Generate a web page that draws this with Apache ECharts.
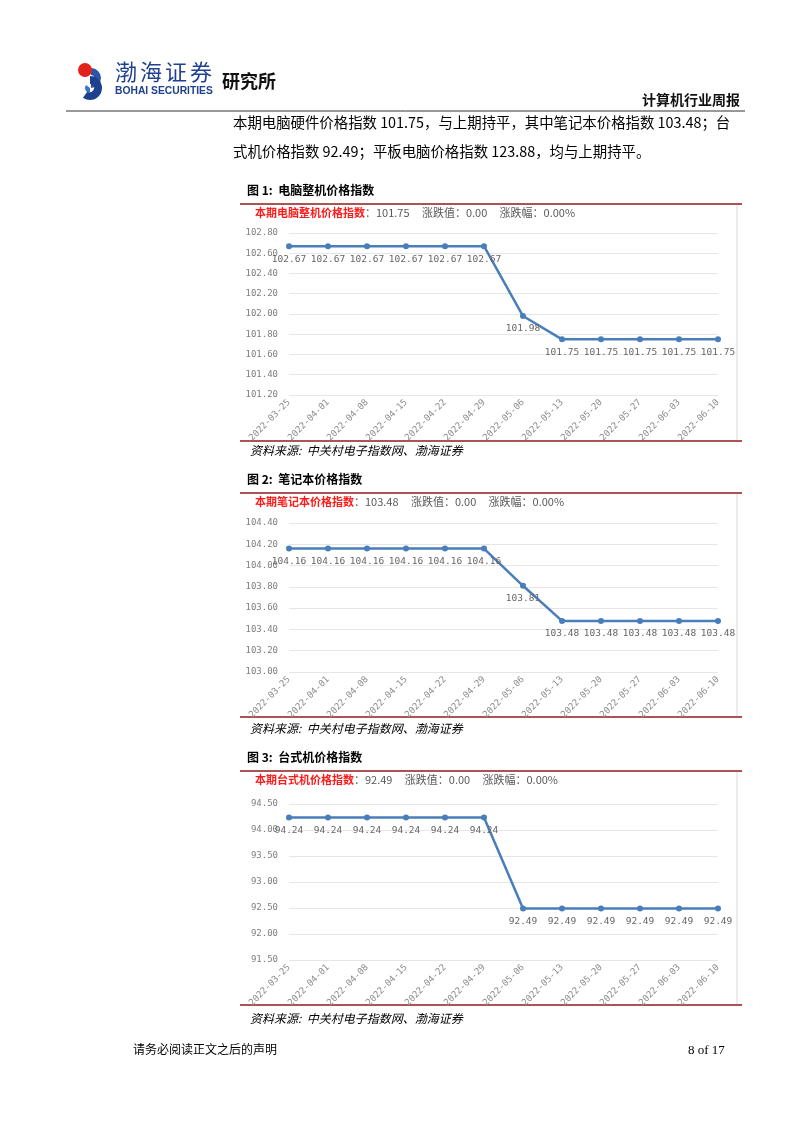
<!DOCTYPE html>
<html><head><meta charset="utf-8">
<script src="https://cdn.jsdelivr.net/npm/echarts@6/dist/echarts.min.js"></script>
<style>html,body{margin:0;padding:0;background:#fff}#c{width:802px;height:1133px}</style>
</head><body><div id="c"></div>
<script>
const categories = ['2022-03-25','2022-04-01','2022-04-08','2022-04-15','2022-04-22','2022-04-29','2022-05-06','2022-05-13','2022-05-20','2022-05-27','2022-06-03','2022-06-10'];
const pcValues = [102.67,102.67,102.67,102.67,102.67,102.67,101.98,101.75,101.75,101.75,101.75,101.75];
const notebookValues = [104.16,104.16,104.16,104.16,104.16,104.16,103.81,103.48,103.48,103.48,103.48,103.48];
const desktopValues = [94.24,94.24,94.24,94.24,94.24,94.24,92.49,92.49,92.49,92.49,92.49,92.49];
const pcAxis = {min:101.2, max:102.8, interval:0.2};
const notebookAxis = {min:103.0, max:104.4, interval:0.2};
const desktopAxis = {min:91.5, max:94.5, interval:0.5};
const figTitles = ['图 1:  电脑整机价格指数','图 2:  笔记本价格指数','图 3:  台式机价格指数'];
const subNames = ['本期电脑整机价格指数','本期笔记本价格指数','本期台式机价格指数'];
const subValues = ['101.75','103.48','92.49'];
const changeValue = '0.00';
const changePct = '0.00%';
const sourceText = '资料来源:  中关村电子指数网、渤海证券';

const chart = echarts.init(document.getElementById('c'), null, {renderer:'canvas'});
const MONO = '"DejaVu Sans Mono", monospace';
const blue = '#4a7ebb';
const red = '#8e1b1b';
const logoBlue = '#1f3f8f';

const panels = [
  {top:233, height:162, titleY:192, lineY:204, subY:214, botY:441, srcY:452, ax:pcAxis, data:pcValues},
  {top:523, height:149, titleY:481, lineY:493, subY:503, botY:717, srcY:730, ax:notebookAxis, data:notebookValues},
  {top:804, height:156, titleY:759, lineY:771, subY:781, botY:1005, srcY:1020, ax:desktopAxis, data:desktopValues}
];

const graphic = [];
// logo icon
graphic.push({type:'sector', shape:{cx:91, cy:78, r0:3, r:10, startAngle:-Math.PI*0.5, endAngle:Math.PI*0.5}, style:{fill:'#2a55a8'}});
graphic.push({type:'sector', shape:{cx:90, cy:88, r0:4, r:12, startAngle:-Math.PI*0.5, endAngle:Math.PI*0.7}, style:{fill:logoBlue}});
graphic.push({type:'sector', shape:{cx:90, cy:88, r0:0, r:5, startAngle:Math.PI*0.5, endAngle:Math.PI*1.2}, style:{fill:'#3c74c8'}});
graphic.push({type:'circle', shape:{cx:85, cy:70, r:7}, style:{fill:'#e2231a'}});
// logo text
['渤','海','证','券'].forEach((ch,k)=>{
  graphic.push({type:'text', left:115+k*25, top:61, style:{text:ch, font:'22px "Noto Sans CJK SC"', fill:logoBlue}});
});
graphic.push({type:'text', left:115, top:86, style:{text:'BOHAI SECURITIES', font:'bold 10.3px "Liberation Sans"', fill:logoBlue}});
graphic.push({type:'text', left:222, top:72, style:{text:'研究所', font:'bold 18px "Noto Sans CJK SC"', fill:'#111'}});
graphic.push({type:'text', right:62, top:93, style:{text:'计算机行业周报', font:'bold 14px "Noto Sans CJK SC"', fill:'#111'}});
graphic.push({type:'line', shape:{x1:66, y1:111, x2:745, y2:111}, style:{stroke:'#333', lineWidth:1}});
// body text
graphic.push({type:'text', left:233, top:115, style:{text:'本期电脑硬件价格指数 101.75，与上期持平，其中笔记本价格指数 103.48；台', font:'14.4px "Noto Sans CJK SC"', fill:'#000'}});
graphic.push({type:'text', left:233, top:144, style:{text:'式机价格指数 92.49；平板电脑价格指数 123.88，均与上期持平。', font:'14.4px "Noto Sans CJK SC"', fill:'#000'}});
// footer
graphic.push({type:'text', left:133, top:1043, style:{text:'请务必阅读正文之后的声明', font:'12px "Noto Sans CJK SC"', fill:'#000'}});
graphic.push({type:'text', left:688, top:1044, style:{text:'8 of 17', font:'13px "Liberation Serif"', fill:'#000'}});

panels.forEach((p,i)=>{
  graphic.push({type:'text', left:247, top:p.titleY-8, style:{text:figTitles[i], font:'bold 12px "Noto Sans CJK SC"', fill:'#000'}});
  graphic.push({type:'line', shape:{x1:240, y1:p.lineY, x2:742, y2:p.lineY}, style:{stroke:red, lineWidth:1.5}});
  graphic.push({type:'line', shape:{x1:737, y1:p.lineY+1, x2:737, y2:p.botY-1}, style:{stroke:'#d9d9d9', lineWidth:1}});
  graphic.push({type:'line', shape:{x1:240, y1:p.botY, x2:742, y2:p.botY}, style:{stroke:red, lineWidth:1.5}});
  graphic.push({type:'text', left:255, top:p.subY-7, style:{
    rich:{r:{fill:'#ff1a1a', font:'bold 11px "Noto Sans CJK SC"'}, g:{fill:'#595959', font:'11px "Noto Sans CJK SC"'}},
    text:'{r|'+subNames[i]+'}{g|：'+subValues[i]+'     涨跌值：'+changeValue+'     涨跌幅：'+changePct+'}'}});
  graphic.push({type:'text', left:250, top:p.srcY-8, style:{text:sourceText, font:'italic 12px "Noto Sans CJK SC"', fill:'#000'}});
});

const grid=[], xAxis=[], yAxis=[], series=[];
panels.forEach((p,i)=>{
  grid.push({left:289, width:429, top:p.top, height:p.height});
  xAxis.push({type:'category', gridIndex:i, data:categories, boundaryGap:false,
    axisLine:{show:false}, axisTick:{show:false},
    axisLabel:{rotate:45, interval:0, margin:6, color:'#8c8c8c', fontSize:9, fontFamily:MONO}});
  yAxis.push({type:'value', gridIndex:i, min:p.ax.min, max:p.ax.max, interval:p.ax.interval,
    axisLine:{show:false}, axisTick:{show:false},
    splitLine:{lineStyle:{color:'#e6e6e6', width:1}},
    axisLabel:{margin:11, color:'#7f7f7f', fontSize:9, fontFamily:MONO, formatter:v=>v.toFixed(2)}});
  series.push({type:'line', xAxisIndex:i, yAxisIndex:i, data:p.data, symbol:'circle', symbolSize:6,
    lineStyle:{color:blue, width:2.5}, itemStyle:{color:blue},
    label:{show:true, position:'bottom', distance:5, color:'#666', fontSize:9.5, fontFamily:MONO, formatter:o=>o.value.toFixed(2)},
    animation:false});
});

chart.setOption({animation:false, grid, xAxis, yAxis, series, graphic});
</script></body></html>
